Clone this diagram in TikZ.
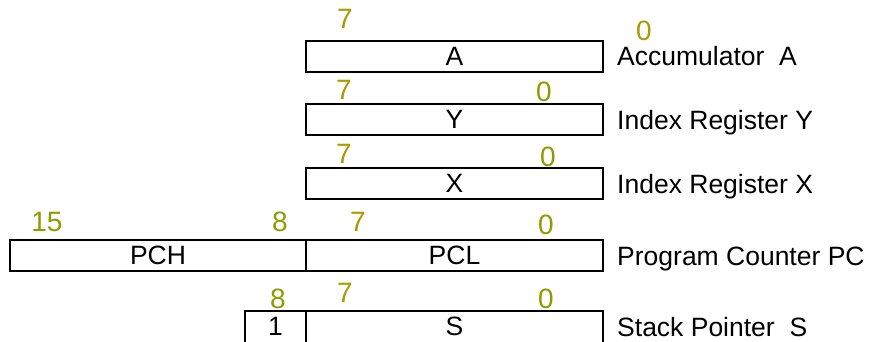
\documentclass[tikz,border=0pt]{standalone}
\usepackage{fontspec}
\setmainfont{Liberation Sans}
\usepackage{tikz}
\usetikzlibrary{positioning}
\definecolor{bityel}{RGB}{168,154,0}
\definecolor{bitgrn}{RGB}{138,156,0}
\tikzset{
  reg/.style={draw, line width=2pt, minimum height=31pt, inner sep=0pt,
    font=\fontsize{26.5}{30}\selectfont},
  reglabel/.style={anchor=base west, inner sep=0pt, font=\fontsize{26.5}{30}\selectfont},
  bitnum/.style={inner sep=0pt, font=\fontsize{28}{32}\selectfont},
}

\begin{document}
\begin{tikzpicture}[x=1pt,y=-1pt]
              \useasboundingbox (0,0) rectangle (869,341);
              % Define registers
              \node[reg, minimum width=297pt] (regA) at (454.5,56) {A};
              \node[reg, minimum width=297pt] (regY) at (454.5,119.5) {Y};
              \node[reg, minimum width=297pt] (regX) at (454.5,183.5) {X};
              \node[reg, minimum width=296pt] (pch) at (158,255) {PCH};
              \node[reg, minimum width=297pt] (pcl) at (454.5,255) {PCL};
              \node[reg, minimum width=61pt, minimum height=32pt] (sone) at (275.5,326.5) {1};
              \node[reg, minimum width=297pt, minimum height=32pt] (regS) at (454.5,326.5) {S};

              % Define register names
              \node[reglabel] (labA) at (617,65) {Accumulator~~A};
              \node[reglabel] (labY) at (617,129.5) {Index Register Y};
              \node[reglabel] (labX) at (617,193.5) {Index Register X};
              \node[reglabel] (labPC) at (617,265) {Program Counter PC};
              \node[reglabel] (labS) at (617,336) {Stack Pointer~~S};

              % Define bit numbers
              \node[bitnum, text=bityel] (a7) at (345,19) {7};
              \node[bitnum, text=bityel] (a0) at (644,31) {0};
              \node[bitnum, text=bityel] (y7) at (344,90) {7};
              \node[bitnum, text=bitgrn] (y0) at (544,92) {0};
              \node[bitnum, text=bityel] (x7) at (344,154) {7};
              \node[bitnum, text=bitgrn] (x0) at (548,157) {0};
              \node[bitnum, text=bitgrn] (pc15) at (47,222) {15};
              \node[bitnum, text=bitgrn] (pc8) at (280,222) {8};
              \node[bitnum, text=bityel] (pc7) at (358,222) {7};
              \node[bitnum, text=bitgrn] (pc0) at (546,225) {0};
              \node[bitnum, text=bitgrn] (s8) at (278,299) {8};
              \node[bitnum, text=bityel] (s7) at (345,293) {7};
              \node[bitnum, text=bitgrn] (s0) at (546,299) {0};
            \end{tikzpicture}
\end{document}
